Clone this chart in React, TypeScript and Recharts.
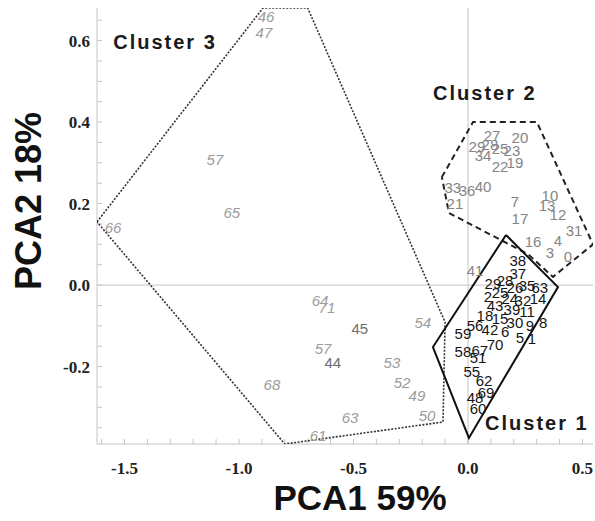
import { ScatterChart, Scatter, XAxis, YAxis, ReferenceLine } from "recharts";

type Pt = [string, number, number];

// [label, PCA1, PCA2]
const cluster1Points: Pt[] = [
  ["38", 0.218, 0.061], ["37", 0.218, 0.029], ["28", 0.162, 0.012], ["29", 0.109, 0.005],
  ["26", 0.205, -0.005], ["35", 0.258, 0.0], ["63", 0.314, -0.005], ["14", 0.306, -0.034],
  ["25", 0.14, -0.017], ["24", 0.183, -0.032], ["32", 0.24, -0.037], ["2", 0.087, -0.029],
  ["43", 0.118, -0.049], ["39", 0.192, -0.061], ["11", 0.258, -0.066], ["18", 0.074, -0.074],
  ["15", 0.14, -0.081], ["30", 0.205, -0.091], ["9", 0.271, -0.098], ["8", 0.328, -0.093],
  ["56", 0.031, -0.098], ["59", -0.022, -0.118], ["42", 0.096, -0.11], ["6", 0.162, -0.115],
  ["5", 0.227, -0.128], ["1", 0.279, -0.13], ["58", -0.022, -0.164], ["67", 0.052, -0.16],
  ["70", 0.118, -0.147], ["51", 0.044, -0.177], ["55", 0.017, -0.213], ["62", 0.07, -0.233],
  ["69", 0.079, -0.263], ["48", 0.031, -0.277], ["60", 0.044, -0.302],
];

const cluster2Points: Pt[] = [
  ["27", 0.105, 0.368], ["20", 0.227, 0.361], ["29", 0.039, 0.339], ["28", 0.096, 0.346],
  ["25", 0.14, 0.336], ["23", 0.192, 0.331], ["34", 0.066, 0.317], ["22", 0.14, 0.29],
  ["19", 0.205, 0.302], ["33", -0.066, 0.24], ["36", -0.004, 0.233], ["40", 0.066, 0.243],
  ["21", -0.057, 0.201], ["7", 0.205, 0.204], ["17", 0.227, 0.164], ["10", 0.358, 0.221],
  ["13", 0.345, 0.196], ["12", 0.393, 0.172], ["31", 0.463, 0.135], ["16", 0.284, 0.106],
  ["4", 0.393, 0.11], ["3", 0.358, 0.079], ["0", 0.437, 0.069], ["41", 0.031, 0.037],
];

const cluster3Points: Pt[] = [
  ["46", -0.882, 0.658], ["47", -0.891, 0.621], ["57", -1.105, 0.307], ["65", -1.031, 0.177],
  ["66", -1.55, 0.142], ["68", -0.856, -0.245], ["64", -0.646, -0.037], ["71", -0.616, -0.056],
  ["57", -0.633, -0.155], ["54", -0.197, -0.093], ["53", -0.332, -0.189], ["52", -0.288, -0.238],
  ["49", -0.223, -0.27], ["50", -0.179, -0.319], ["63", -0.515, -0.324], ["61", -0.655, -0.368],
];

const cluster3Upright: Pt[] = [["45", -0.472, -0.106], ["44", -0.59, -0.189]];

const clusterNames: Pt[] = [
  ["Cluster 1", 0.301, -0.339],
  ["Cluster 2", 0.074, 0.471],
  ["Cluster 3", -1.323, 0.596],
];

const cluster1Hull: [number, number][] = [
  [0.166, 0.123], [0.393, -0.005], [0.004, -0.375], [-0.153, -0.152],
];
const cluster2Hull: [number, number][] = [
  [-0.114, 0.265], [0.022, 0.4], [0.301, 0.4], [0.546, 0.1],
  [0.371, 0.02], [0.262, 0.076], [-0.083, 0.177],
];
const cluster3Hull: [number, number][] = [
  [-1.62, 0.155], [-0.895, 0.68], [-0.7, 0.68], [-0.1, -0.091],
  [-0.109, -0.336], [-0.8, -0.39],
];

const xTicks = [-1.6, -1.5, -1.4, -1.3, -1.2, -1.1, -1.0, -0.9, -0.8, -0.7, -0.6, -0.5, -0.4, -0.3, -0.2, -0.1, 0, 0.1, 0.2, 0.3, 0.4, 0.5];
const xMajor = [-1.5, -1.0, -0.5, 0, 0.5];
const yTicks = [-0.35, -0.3, -0.25, -0.2, -0.15, -0.1, -0.05, 0, 0.05, 0.1, 0.15, 0.2, 0.25, 0.3, 0.35, 0.4, 0.45, 0.5, 0.55, 0.6, 0.65];
const yMajor = [-0.2, 0, 0.2, 0.4, 0.6];

const X_DOMAIN: [number, number] = [-1.62, 0.546];
const Y_DOMAIN: [number, number] = [-0.39, 0.68];
const FRAME = "#c4c4c4";
const SANS = "'Liberation Sans', Arial, sans-serif";
const SERIF = "'Liberation Serif', 'Times New Roman', serif";

const rows = (pts: Pt[]) => pts.map(([label, x, y]) => ({ label, x, y }));
const hullRows = (h: [number, number][]) =>
  [...h, h[0]].map(([x, y]) => ({ x, y }));

const majorFmt = (majors: number[]) => (v: number) =>
  majors.some((m) => Math.abs(m - v) < 1e-6) ? v.toFixed(1) : "";

const textShape =
  (color: string, opts: { italic?: boolean; size?: number; bold?: boolean } = {}) =>
  (props: any) => (
    <text
      x={props.cx}
      y={props.cy}
      textAnchor="middle"
      dominantBaseline="central"
      fill={color}
      fontSize={opts.size ?? 15}
      fontStyle={opts.italic ? "italic" : "normal"}
      fontWeight={opts.bold ? "bold" : "normal"}
      fontFamily={SANS}
      letterSpacing={opts.bold ? 2 : 0}
    >
      {props.payload.label}
    </text>
  );

const noDot = () => <g />;

const tickStyle = { fontFamily: SERIF, fontWeight: "bold", fontSize: 17, fill: "#222" };

export default function App() {
  return (
    <div style={{ position: "absolute", left: 0, top: 0, background: "#fff" }}>
      <ScatterChart width={595} height={521} margin={{ top: 8, right: 2, bottom: 0, left: 0 }}>
        <XAxis
          type="number"
          dataKey="x"
          domain={X_DOMAIN}
          allowDataOverflow
          ticks={xTicks}
          interval={0}
          tickFormatter={majorFmt(xMajor)}
          tickSize={-5}
          tickMargin={23}
          height={77}
          stroke={FRAME}
          tick={tickStyle}
          label={{
            value: "PCA1 59%",
            position: "center",
            dx: 15,
            dy: 15,
            style: { fontFamily: SANS, fontWeight: "bold", fontSize: 35, fill: "#111" },
          }}
        />
        <XAxis
          xAxisId="top"
          orientation="top"
          type="number"
          domain={X_DOMAIN}
          allowDataOverflow
          ticks={xTicks}
          interval={0}
          tick={false}
          tickSize={-5}
          height={0}
          stroke={FRAME}
        />
        <YAxis
          type="number"
          dataKey="y"
          domain={Y_DOMAIN}
          allowDataOverflow
          ticks={yTicks}
          interval={0}
          tickFormatter={majorFmt(yMajor)}
          tickSize={-5}
          tickMargin={12}
          width={97}
          stroke={FRAME}
          tick={tickStyle}
          label={{
            value: "PCA2 18%",
            position: "center",
            angle: -90,
            dx: -20,
            dy: -25,
            style: { fontFamily: SANS, fontWeight: "bold", fontSize: 36, fill: "#111" },
          }}
        />
        <YAxis
          yAxisId="right"
          orientation="right"
          type="number"
          domain={Y_DOMAIN}
          allowDataOverflow
          ticks={yTicks}
          interval={0}
          tick={false}
          tickSize={-5}
          width={0}
          stroke={FRAME}
        />
        <ReferenceLine x={0} stroke={FRAME} strokeWidth={1} />
        <ReferenceLine y={0} stroke={FRAME} strokeWidth={1} />

        <Scatter
          data={hullRows(cluster3Hull)}
          line={{ stroke: "#333", strokeWidth: 1.6, strokeDasharray: "2 1.5" }}
          lineType="joint"
          shape={noDot}
          isAnimationActive={false}
        />
        <Scatter
          data={hullRows(cluster2Hull)}
          line={{ stroke: "#222", strokeWidth: 2, strokeDasharray: "6 4" }}
          lineType="joint"
          shape={noDot}
          isAnimationActive={false}
        />
        <Scatter
          data={hullRows(cluster1Hull)}
          line={{ stroke: "#111", strokeWidth: 2 }}
          lineType="joint"
          shape={noDot}
          isAnimationActive={false}
        />

        <Scatter data={rows(cluster3Points)} shape={textShape("#9c9c9c", { italic: true })} isAnimationActive={false} />
        <Scatter data={rows(cluster3Upright)} shape={textShape("#6e6e6e")} isAnimationActive={false} />
        <Scatter data={rows(cluster2Points)} shape={textShape("#858585")} isAnimationActive={false} />
        <Scatter data={rows(cluster1Points)} shape={textShape("#161616")} isAnimationActive={false} />
        <Scatter
          data={rows(clusterNames)}
          shape={textShape("#1a1a1a", { bold: true, size: 20 })}
          isAnimationActive={false}
        />
      </ScatterChart>
    </div>
  );
}
